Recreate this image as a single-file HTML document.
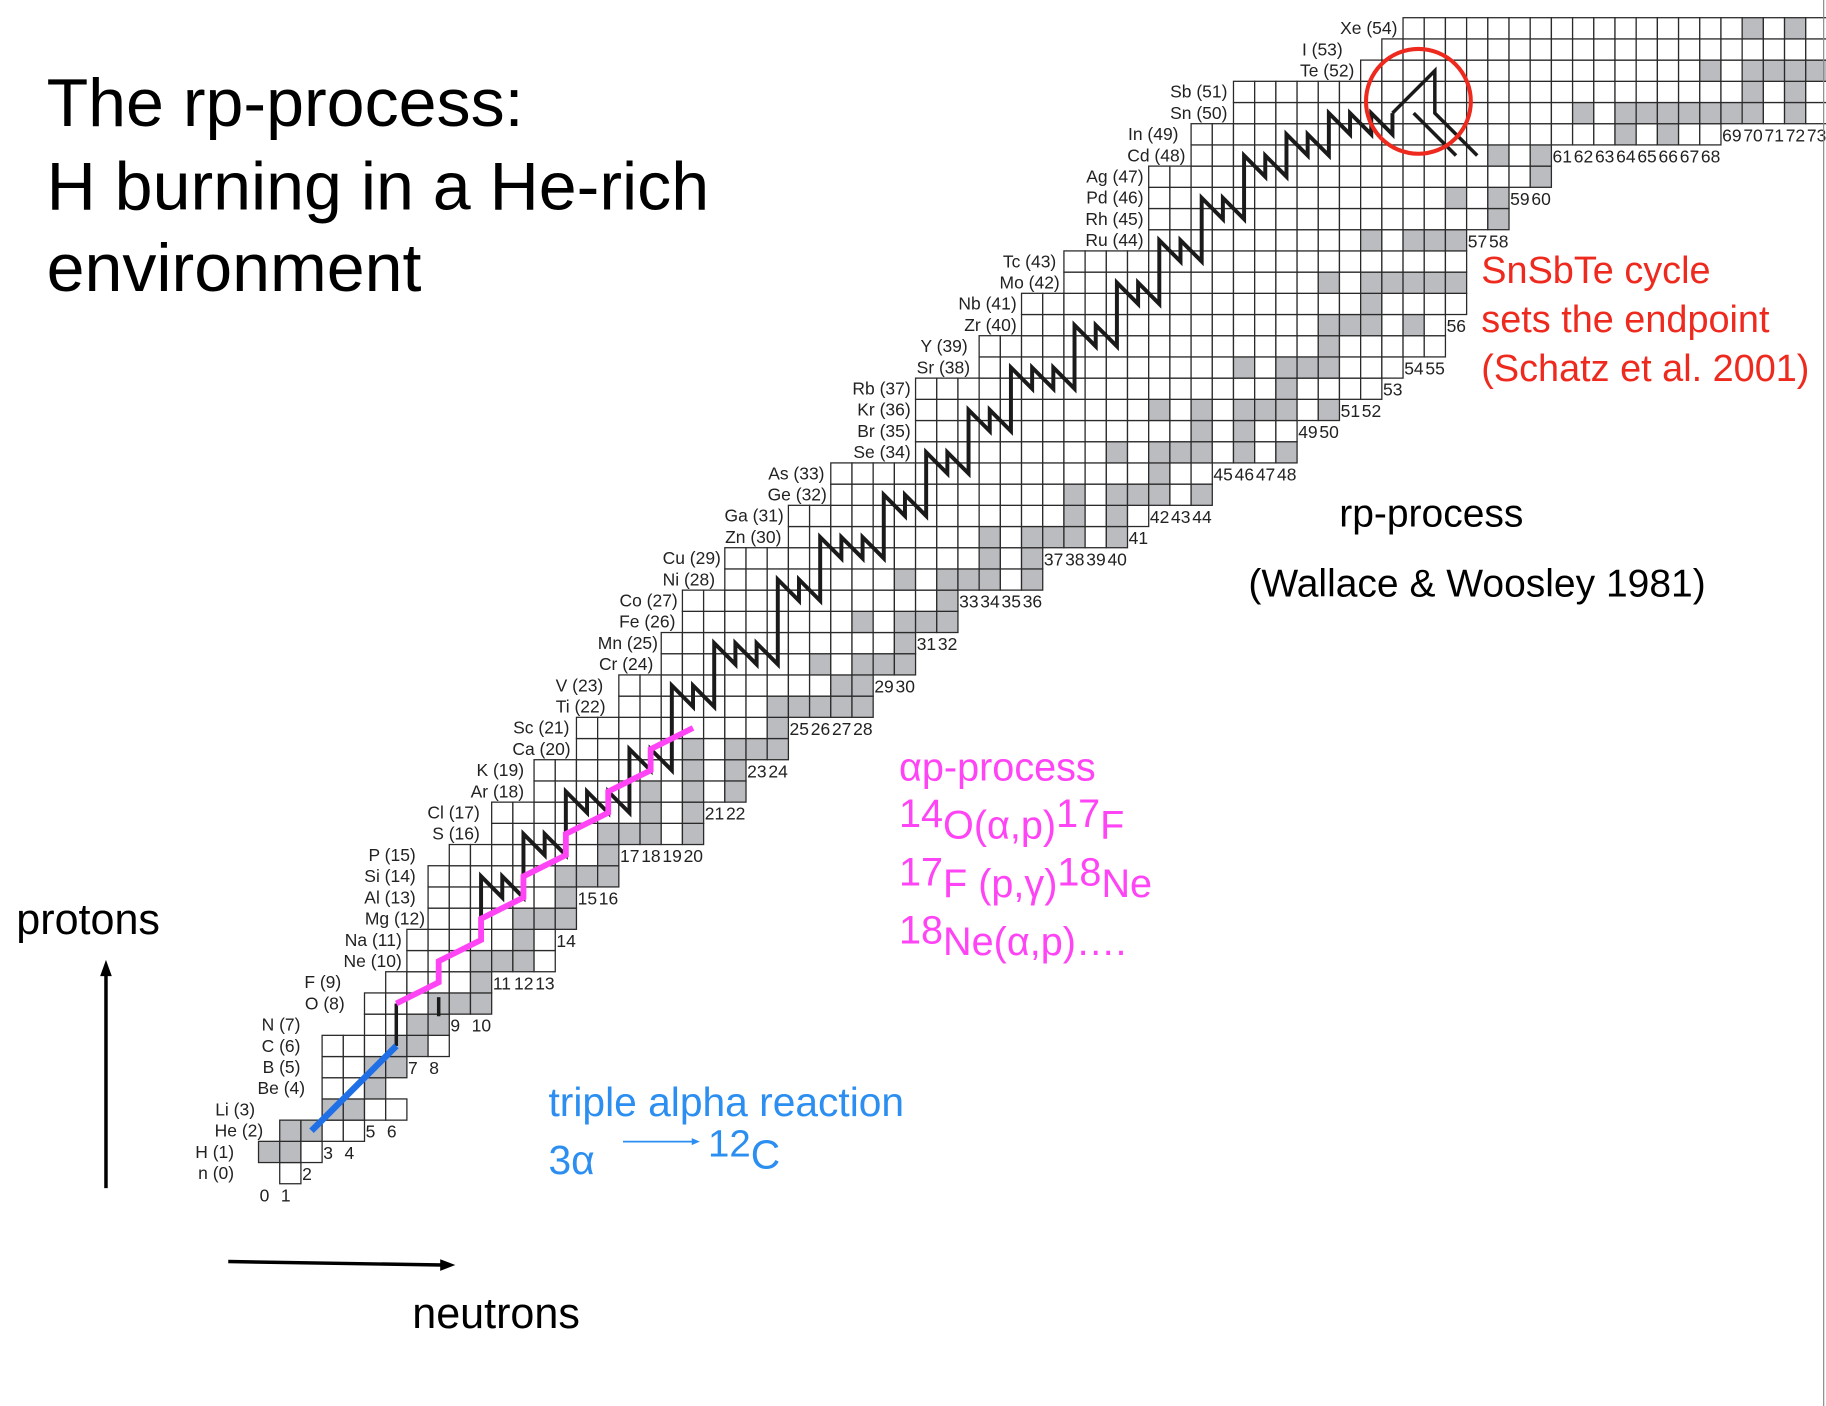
<!DOCTYPE html>
<html><head><meta charset="utf-8"><style>
html,body{margin:0;padding:0;background:#fff;}
svg{display:block;font-family:"Liberation Sans",Arial,sans-serif;}
</style></head><body>
<svg id="chart" width="1826" height="1406" viewBox="0 0 1568 1207" preserveAspectRatio="none" xmlns="http://www.w3.org/2000/svg">
<g id="grid"></g>
<g id="collabels"></g>
<g id="rowlabels"></g>
<g id="paths"></g>
<circle cx="1218" cy="87" r="45" fill="none" stroke="#ee2a1f" stroke-width="3.5"/>
<g font-size="58.5" fill="#000">
<text x="40" y="108">The rp-process:</text>
<text x="40" y="180">H burning in a He-rich</text>
<text x="40" y="250">environment</text>
</g>
<text x="14" y="802" font-size="37">protons</text>
<line x1="91" y1="1020" x2="91" y2="835" stroke="#000" stroke-width="3"/>
<polygon points="86,838 96,838 91,824" fill="#000"/>
<line x1="196" y1="1083" x2="380" y2="1086" stroke="#000" stroke-width="3"/>
<polygon points="378,1081 378,1091 391,1086" fill="#000"/>
<text x="354" y="1140" font-size="37">neutrons</text>
<g fill="#2b8ef0" font-size="35">
<text x="471" y="958">triple alpha reaction</text>
<text x="471" y="1008">3α</text>
<line x1="535" y1="980" x2="596" y2="980" stroke="#2b8ef0" stroke-width="1.5"/>
<polygon points="594,977 594,983 601,980" fill="#2b8ef0"/>
<text x="608" y="1003"><tspan font-size="33" dy="-10">12</tspan><tspan dy="10">C</tspan></text>
</g>
<g fill="#ff44f5" font-size="34">
<text x="772" y="670">αp-process</text>
<text x="772" y="720"><tspan dy="-10">14</tspan><tspan dy="10">O(α,p)</tspan><tspan dy="-10">17</tspan><tspan dy="10">F</tspan></text>
<text x="772" y="770"><tspan dy="-10">17</tspan><tspan dy="10">F (p,γ)</tspan><tspan dy="-10">18</tspan><tspan dy="10">Ne</tspan></text>
<text x="772" y="820"><tspan dy="-10">18</tspan><tspan dy="10">Ne(α,p)….</tspan></text>
</g>
<g fill="#ee2a1f" font-size="32.5">
<text x="1272" y="243">SnSbTe cycle</text>
<text x="1272" y="285">sets the endpoint</text>
<text x="1272" y="327">(Schatz et al. 2001)</text>
</g>
<g fill="#000" font-size="33.5">
<text x="1150" y="452">rp-process</text>
<text x="1072" y="512">(Wallace &amp; Woosley 1981)</text>
</g>
<line x1="1566" y1="0" x2="1566" y2="1207" stroke="#888" stroke-width="1"/>
</svg>
<script>
const rowNmin=[1,0,1,3,3,3,3,5,5,6,7,7,8,8,8,9,11,11,13,13,15,15,17,17,19,19,20,20,22,22,25,25,27,27,31,31,31,31,34,34,36,36,38,38,42,42,42,42,44,44,46,46,52,53,54];
const rowNmax=[1,2,4,6,5,6,8,8,10,10,13,13,14,14,16,16,20,20,22,22,24,24,28,28,30,30,32,32,36,36,40,41,44,44,48,48,50,52,53,55,55,56,56,56,56,58,58,60,60,68,80,80,80,80,80];
const elements=["n","H","He","Li","Be","B","C","N","O","F","Ne","Na","Mg","Al","Si","P","S","Cl","Ar","K","Ca","Sc","Ti","V","Cr","Mn","Fe","Co","Ni","Cu","Zn","Ga","Ge","As","Se","Br","Kr","Rb","Sr","Y","Zr","Nb","Mo","Tc","Ru","Rh","Pd","Ag","Cd","In","Sn","Sb","Te","I","Xe"];
const labelEnd=[201,201,226,219,262,258,258,258,296,293,345,345,365,357,357,357,412,412,450,450,490,489,520,518,561,565,580,582,614,619,671,673,710,708,782,782,782,782,833,831,873,873,910,907,982,982,982,982,1018,1012,1054,1054,1163,1153,1200];
const stable=[[],[0,1],[1,2],[3,4],[5],[5,6],[6,7],[7,8],[8,9,10],[10],[10,11,12],[12],[12,13,14],[14],[14,15,16],[16],[16,17,18,20],[18,20],[18,20,22],[20,22],[20,22,23,24,26,28],[24],[24,25,26,27,28],[27,28],[26,28,29,30],[30],[28,30,31,32],[32],[30,32,33,34,36],[34,36],[34,36,37,38,40],[38,40],[38,40,41,42,44],[42],[40,42,43,44,46,48],[44,46],[42,44,46,47,48,50],[48],[46,48,49,50],[50],[50,51,52,54,56],[52],[50,52,53,54,55,56,58],[],[52,54,55,56,57,58,60],[58],[56,58,59,60,62,64],[60,62],[58,60,62,63,64,65,66,68],[64,66],[62,64,65,66,67,68,69,70,72,74],[70,72],[68,70,71,72,73,74,76,78],[74],[70,72,74,75,76,77,78,80,82]];
const rpStart=[10,12];
const rpSteps=[["u",2],["t",2],["u",2],["t",2],["u",2],["t",3],["u",2],["t",2],
["u",3],["t",2],["u",2],["t",3],["u",3],["t",2],
["u",2],["t",3],["u",2],["t",2],["u",2],["t",2],
["u",2],["t",2],["u",2],["t",3],["u",2],["t",2],
["u",2],["t",2],["u",2],["t",2],
["u",2],["t",2],["u",2],["t",2],
["u",1],["t",2],["u",1],["t",3]];
const cyclePts=[[53,50],[55,52],[55,50],[57,48]];
const cycleTail=[[54,50],[56,48]];
const apStart=[6,8];
const apSteps=["d","u","d","u","d","u","d","u","d","u","d","u","d"];
const tripleAlpha=[[2,2],[6,6]];
const blackStub=[[6,6],[6,8]];
const blackStub2=[[8,7.4],[8,8.3]];

const NS="http://www.w3.org/2000/svg";
const S=18.2,X0=222,Y0=998;
const xL=n=>X0+S*n, yT=z=>Y0-S*z, cx=n=>X0+S*(n+0.5), cy=z=>Y0+S*0.5-S*z;
function mk(tag,attrs,parent){const e=document.createElementNS(NS,tag);for(const k in attrs)e.setAttribute(k,attrs[k]);parent.appendChild(e);return e;}
const grid=document.getElementById('grid');
for(let z=0;z<rowNmax.length;z++){
  for(let n=rowNmin[z];n<=rowNmax[z];n++){
    if(xL(n)>1570)break;
    const r=mk('rect',{x:xL(n),y:yT(z),width:S,height:S,fill:stable[z].includes(n)?'#bbbcc0':'#fff',stroke:'#2a2a2a','stroke-width':1.1},grid);
    
    
  }
}
const rl=document.getElementById('rowlabels');
for(let z=0;z<elements.length;z++){
  const t=mk('text',{x:labelEnd[z],y:cy(z)+5,'font-size':15,'text-anchor':'end',fill:'#222'},rl);
  t.textContent=elements[z]+' ('+z+')';
  
  
}
const cl=document.getElementById('collabels');
for(let n=0;n<=73;n++){
  let zb=-1;
  for(let z=0;z<rowNmax.length;z++){if(rowNmin[z]<=n&&n<=rowNmax[z]){zb=z;break;}}
  if(n===0)zb=0;
  if(zb<0)continue;
  const t=mk('text',{x:xL(n)+1,y:cy(zb-1)+6,'font-size':15,fill:'#222'},cl);
  t.textContent=String(n);
  
  
}
const pg=document.getElementById('paths');
function poly(pts,color,w,name){
  const p=mk('polyline',{points:pts.map(q=>cx(q[0])+','+cy(q[1])).join(' '),fill:'none',stroke:color,'stroke-width':w,'stroke-linejoin':'miter','stroke-linecap':'butt'},pg);
  
  
}
let n=rpStart[0],z=rpStart[1];const rp=[[n,z]];
for(const [s,k] of rpSteps){
  if(s==='u'){z+=k;rp.push([n,z]);}
  else{for(let i=0;i<k;i++){rp.push([n+1,z-1]);n+=1;rp.push([n,z]);}}
}
poly(rp,'#1a1a1a',3.4,'rp-process-path');
poly(cyclePts,'#1a1a1a',3,'snsbte-cycle-path');
poly(cycleTail,'#1a1a1a',3,'snsbte-cycle-tail');
let an=apStart[0],az=apStart[1];const ap=[[an,az]];
for(const s of apSteps){if(s==='d'){an+=2;az+=1;}else{az+=1;}ap.push([an,az]);}
poly(blackStub,'#1a1a1a',3,'breakout-stub');
poly(blackStub2,'#1a1a1a',3,'breakout-stub-2');
poly(ap,'#ff44f5',5,'alpha-p-process-path');
poly(tripleAlpha,'#1f6fe6',5.5,'triple-alpha-line');
</script>
</body></html>
